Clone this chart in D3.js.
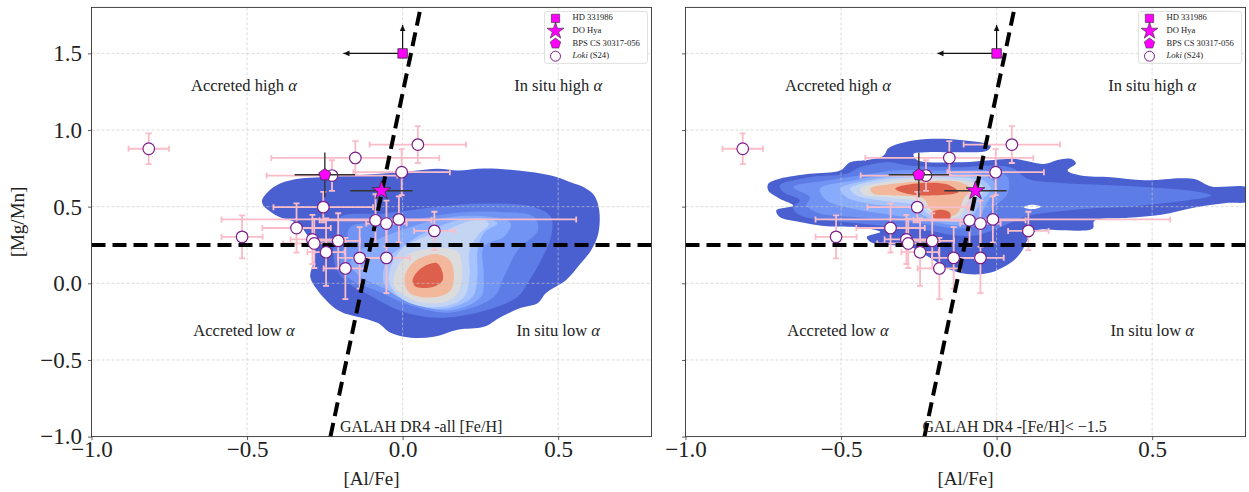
<!DOCTYPE html>
<html><head><meta charset="utf-8">
<script src="https://cdn.jsdelivr.net/npm/d3@7"></script>
<style>
body{margin:0;background:#fff}
svg{display:block}
text{font-family:"Liberation Serif","DejaVu Serif",serif;fill:#222}
</style>
</head><body>
<svg id="chart" width="1249" height="492"></svg>
<script>
// ---------------- data ----------------
const xTicks = [-1.0, -0.5, 0.0, 0.5];
const yTicks = [-1.0, -0.5, 0.0, 0.5, 1.0, 1.5];
const xDomain = [-1.0, 0.8];
const yDomain = [-1.0, 1.8];

// Loki (S24) stars: [Al/Fe], [Mg/Mn] and errors
const lokiAlFe  = [0.049,-0.152,-0.227,-0.003,-0.255,-0.341,-0.516,-0.290,-0.284,-0.207,-0.246,-0.184,-0.138,-0.052,-0.087,-0.052,-0.012,0.102,-0.816];
const lokiMgMn  = [0.905, 0.818, 0.703, 0.725, 0.497, 0.361, 0.303, 0.286, 0.260, 0.277, 0.203, 0.097, 0.166, 0.166, 0.411, 0.390, 0.417,0.342, 0.878];
const lokiAlErr = [0.155, 0.27, 0.21, 0.155, 0.16, 0.11, 0.066, 0.07, 0.10, 0.07, 0.06, 0.07, 0.07, 0.075, 0.18, 0.065, 0.57, 0.065, 0.065];
const lokiMgErr = [0.12, 0.11, 0.10, 0.15, 0.10, 0.16, 0.14, 0.16, 0.16, 0.18, 0.22, 0.20, 0.20, 0.23, 0.17, 0.15, 0.15, 0.125, 0.10];

// named stars
const hdPoint = [0.0, 1.5];          // HD 331986 (limits)
const hdLimitTo = [-0.19, 1.685];     // arrow ends: left in [Al/Fe], up in [Mg/Mn]
const doHya = [-0.068, 0.604, 0.10, 0.0];
const bpsCS = [-0.250, 0.708, 0.097, 0.146];

// dividing lines
const mgMnCut = 0.25;
const alFeCut = [[-0.232, -1.0], [0.058, 1.8]];

// density contour colours (outer -> inner)
const levelColors = ["#4a60d0","#5d7ce6","#7193f3","#88abfc","#a6c3fd","#c4d5f3","#dddcdc","#f3b79b","#dd604c"];

// GALAH DR4 all [Fe/H] contour outlines per level ([Al/Fe],[Mg/Mn])
const allL0 = [[-0.452,0.541],[-0.435,0.593],[-0.394,0.651],[-0.329,0.684],[-0.265,0.692],[-0.168,0.703],[-0.061,0.716],[0.026,0.731],[0.113,0.747],[0.177,0.736],[0.261,0.749],[0.371,0.736],[0.477,0.703],[0.542,0.658],[0.584,0.625],[0.616,0.573],[0.632,0.476],[0.629,0.325],[0.606,0.216],[0.568,0.119],[0.526,0.022],[0.461,-0.063],[0.435,-0.128],[0.381,-0.160],[0.316,-0.219],[0.261,-0.284],[0.177,-0.303],[0.1,-0.349],[0.026,-0.355],[-0.039,-0.323],[-0.081,-0.258],[-0.168,-0.206],[-0.19,-0.193],[-0.223,-0.154],[-0.274,-0.043],[-0.297,0.041],[-0.287,0.132],[-0.281,0.216],[-0.297,0.281],[-0.313,0.333],[-0.329,0.379],[-0.361,0.411],[-0.394,0.431],[-0.426,0.469],[-0.448,0.508]];
const allL1 = [[-0.2,0.432],[-0.061,0.456],[0.1,0.497],[0.261,0.521],[0.423,0.497],[0.477,0.432],[0.477,0.303],[0.445,0.151],[0.402,0.002],[0.37,-0.087],[0.261,-0.18],[0.112,-0.225],[-0.006,-0.18],[-0.114,-0.07],[-0.168,-0.01],[-0.211,0.086],[-0.223,0.216],[-0.211,0.346]];
const allL2 = [[-0.168,0.368],[-0.006,0.4],[0.155,0.456],[0.316,0.465],[0.423,0.432],[0.435,0.346],[0.37,0.216],[0.326,0.043],[0.294,-0.087],[0.155,-0.19],[0.026,-0.145],[-0.082,-0.05],[-0.179,0.043],[-0.2,0.151],[-0.179,0.281]];
const allL3 = [[0.026,0.368],[0.155,0.432],[0.284,0.432],[0.348,0.39],[0.326,0.303],[0.261,0.238],[0.261,0.043],[0.252,-0.087],[0.155,-0.175],[0.026,-0.125],[-0.061,-0.03],[-0.135,0.043],[-0.168,0.132],[-0.135,0.216],[-0.061,0.303]];
const allL4 = [[0.068,0.327],[0.176,0.411],[0.261,0.424],[0.305,0.392],[0.261,0.327],[0.241,0.216],[0.24,0.043],[0.225,-0.087],[0.132,-0.165],[0.015,-0.12],[-0.06,0],[-0.05,0.151],[0.015,0.262]];
const allL5 = [[-0.045,0.021],[-0.032,0.138],[0.0,0.229],[0.058,0.294],[0.139,0.346],[0.203,0.398],[0.258,0.418],[0.277,0.385],[0.245,0.32],[0.215,0.216],[0.215,0.054],[0.2,-0.082],[0.155,-0.14],[0.09,-0.155],[0.026,-0.13],[-0.019,-0.07]];
const allL6 = [[-0.029,0.021],[-0.013,0.119],[0.019,0.19],[0.074,0.223],[0.139,0.229],[0.18,0.2],[0.19,0.12],[0.19,0.03],[0.175,-0.07],[0.145,-0.115],[0.106,-0.13],[0.042,-0.115],[0.0,-0.07],[-0.023,-0.035]];
const allL7 = [[0.006,0.034],[0.026,0.119],[0.065,0.171],[0.113,0.19],[0.152,0.151],[0.165,0.054],[0.155,-0.043],[0.123,-0.082],[0.058,-0.089],[0.019,-0.056]];
const allL8 = [[0.032,0.021],[0.052,0.086],[0.084,0.125],[0.110,0.132],[0.126,0.086],[0.129,0.021],[0.106,-0.018],[0.065,-0.031],[0.039,-0.018]];

// GALAH DR4 [Fe/H] < -1.5 contour outlines per level
const mpL0 = [[-0.734,0.649],[-0.697,0.682],[-0.6,0.714],[-0.503,0.736],[-0.471,0.79],[-0.417,0.805],[-0.364,0.833],[-0.347,0.883],[-0.299,0.919],[-0.224,0.941],[-0.116,0.935],[-0.019,0.898],[-0.030,0.866],[-0.116,0.855],[-0.224,0.855],[-0.267,0.844],[-0.256,0.805],[-0.116,0.79],[-0.009,0.805],[0.056,0.812],[0.153,0.779],[0.196,0.805],[0.239,0.812],[0.255,0.783],[0.228,0.736],[0.271,0.703],[0.368,0.692],[0.475,0.672],[0.594,0.686],[0.637,0.68],[0.690,0.632],[0.806,0.622],[0.806,0.536],[0.744,0.525],[0.637,0.495],[0.529,0.448],[0.422,0.428],[0.314,0.407],[0.309,0.357],[0.206,0.346],[0.131,0.346],[0.099,0.281],[0.083,0.216],[0.056,0.151],[0.013,0.097],[-0.030,0.065],[-0.095,0.060],[-0.159,0.097],[-0.202,0.151],[-0.277,0.238],[-0.331,0.249],[-0.406,0.270],[-0.417,0.303],[-0.374,0.335],[-0.439,0.364],[-0.546,0.372],[-0.632,0.400],[-0.697,0.432],[-0.708,0.476],[-0.654,0.508],[-0.697,0.552],[-0.734,0.606]];
const mpHole = [[0.087,0.497],[0.115,0.512],[0.142,0.5],[0.115,0.484]];
const mpL1 = [[-0.697,0.638],[-0.6,0.692],[-0.482,0.714],[-0.439,0.757],[-0.353,0.79],[-0.277,0.768],[-0.116,0.757],[-0.009,0.768],[0.056,0.747],[0.099,0.682],[0.206,0.655],[0.314,0.645],[0.422,0.635],[0.529,0.622],[0.637,0.6],[0.690,0.573],[0.637,0.548],[0.529,0.52],[0.422,0.5],[0.314,0.49],[0.206,0.47],[0.099,0.44],[0.013,0.368],[-0.062,0.314],[-0.138,0.314],[-0.224,0.346],[-0.331,0.368],[-0.439,0.39],[-0.546,0.411],[-0.632,0.444],[-0.654,0.494],[-0.632,0.541],[-0.686,0.595]];
const mpL2 = [[-0.654,0.627],[-0.546,0.671],[-0.439,0.703],[-0.331,0.736],[-0.170,0.736],[-0.030,0.736],[0.035,0.692],[0.035,0.584],[-0.009,0.497],[-0.052,0.39],[-0.116,0.357],[-0.202,0.379],[-0.331,0.411],[-0.460,0.432],[-0.568,0.455],[-0.611,0.508],[-0.6,0.562]];
const mpL3 = [[-0.568,0.617],[-0.460,0.671],[-0.331,0.714],[-0.170,0.718],[-0.041,0.703],[0.002,0.627],[-0.030,0.530],[-0.062,0.411],[-0.116,0.379],[-0.202,0.4],[-0.331,0.444],[-0.460,0.487],[-0.546,0.541]];
const mpL4 = [[-0.503,0.617],[-0.417,0.671],[-0.299,0.703],[-0.159,0.703],[-0.052,0.682],[-0.019,0.617],[-0.052,0.530],[-0.084,0.422],[-0.127,0.4],[-0.213,0.422],[-0.277,0.487],[-0.406,0.519],[-0.482,0.562]];
const mpL5 = [[-0.471,0.617],[-0.385,0.671],[-0.277,0.692],[-0.148,0.692],[-0.062,0.671],[-0.041,0.606],[-0.073,0.530],[-0.1,0.432],[-0.138,0.411],[-0.213,0.444],[-0.256,0.508],[-0.374,0.541],[-0.449,0.573]];
const mpL6 = [[-0.439,0.617],[-0.364,0.660],[-0.256,0.682],[-0.138,0.675],[-0.073,0.649],[-0.062,0.595],[-0.095,0.530],[-0.116,0.444],[-0.159,0.422],[-0.213,0.465],[-0.245,0.530],[-0.353,0.562],[-0.428,0.580]];
const mpL7 = [[-0.406,0.617],[-0.331,0.649],[-0.224,0.666],[-0.116,0.660],[-0.084,0.617],[-0.106,0.552],[-0.127,0.455],[-0.170,0.432],[-0.213,0.487],[-0.235,0.552],[-0.331,0.573],[-0.396,0.584]];
const mpL8a = [[-0.326,0.617],[-0.268,0.649],[-0.158,0.645],[-0.123,0.595],[-0.213,0.573],[-0.287,0.584]];
const mpL8b = [[-0.21,0.46],[-0.18,0.48],[-0.15,0.46],[-0.15,0.42],[-0.18,0.41],[-0.205,0.43]];

const allLevels = [[allL0],[allL1],[allL2],[allL3],[allL4],[allL5],[allL6],[allL7],[allL8]];
const mpLevels  = [[mpL0],[mpL1],[mpL2],[mpL3],[mpL4],[mpL5],[mpL6],[mpL7],[mpL8a,mpL8b]];

const regionLabels = ["Accreted high \u03b1","In situ high \u03b1","Accreted low \u03b1","In situ low \u03b1"];
const legendLabels = ["HD 331986","DO Hya","BPS CS 30317-056","Loki (S24)"];

// ---------------- layout ----------------
const W = 560, H = 429.2, TOP = 7.4;
const panels = [
  {ox: 91.5, levels: allLevels, hole: null, label: "GALAH DR4 -all [Fe/H]", labelX: -0.201, yLabels: true},
  {ox: 685.5, levels: mpLevels, hole: mpHole, label: "GALAH DR4 -[Fe/H]< \u22121.5", labelX: -0.238, yLabels: false}
];
const regionPos = [[-0.51,1.28],[0.5,1.28],[-0.51,-0.32],[0.5,-0.32]];

const svg = d3.select("#chart");
const x = d3.scaleLinear().domain(xDomain).range([0, W]);
const y = d3.scaleLinear().domain(yDomain).range([H, 0]);
const fmt = v => (v < 0 ? "\u2212" : "") + Math.abs(v).toFixed(1);
const curve = d3.line().x(d => x(d[0])).y(d => y(d[1])).curve(d3.curveCatmullRomClosed.alpha(0.5));

function pentagon(r) {
  const pts = d3.range(5).map(k => {
    const a = -Math.PI / 2 + k * 2 * Math.PI / 5;
    return [r * Math.cos(a), r * Math.sin(a)];
  });
  return "M" + pts.map(p => p.join(",")).join("L") + "Z";
}
const MAG = "#ff00ff";

panels.forEach((p, pi) => {
  const g = svg.append("g").attr("transform", `translate(${p.ox},${TOP})`);
  const clipId = "clip" + pi;
  g.append("clipPath").attr("id", clipId).append("rect").attr("width", W).attr("height", H);
  const body = g.append("g").attr("clip-path", `url(#${clipId})`);

  // contours
  p.levels.forEach((polys, li) => {
    polys.forEach(poly => {
      body.append("path").attr("d", curve(poly)).attr("fill", levelColors[li]).attr("stroke", "none");
    });
    if (li === 1 && p.hole) {
      body.append("path").attr("d", curve(p.hole)).attr("fill", "#fff");
    }
  });

  // grid
  body.selectAll(".gx").data(xTicks).join("line")
    .attr("x1", d => x(d)).attr("x2", d => x(d)).attr("y1", 0).attr("y2", H)
    .attr("stroke", "#c8c8c8").attr("stroke-opacity", 0.8).attr("stroke-width", 0.8).attr("stroke-dasharray", "3,2");
  body.selectAll(".gy").data(yTicks).join("line")
    .attr("y1", d => y(d)).attr("y2", d => y(d)).attr("x1", 0).attr("x2", W)
    .attr("stroke", "#c8c8c8").attr("stroke-opacity", 0.8).attr("stroke-width", 0.8).attr("stroke-dasharray", "3,2");

  // region labels
  regionLabels.forEach((t, i) => {
    const parts = t.split("\u03b1");
    const tx = body.append("text").attr("x", x(regionPos[i][0])).attr("y", y(regionPos[i][1]))
      .attr("text-anchor", "middle").attr("dominant-baseline", "middle").attr("font-size", 16.5);
    tx.append("tspan").text(parts[0]);
    tx.append("tspan").attr("font-style", "italic").text("\u03b1");
  });

  // Loki error bars
  const eb = body.append("g").attr("stroke", "#f9bcc8").attr("stroke-width", 1.8);
  lokiAlFe.forEach((ax, i) => {
    const my = lokiMgMn[i], ex = lokiAlErr[i], ey = lokiMgErr[i];
    eb.append("line").attr("x1", x(ax - ex)).attr("x2", x(ax + ex)).attr("y1", y(my)).attr("y2", y(my));
    eb.append("line").attr("x1", x(ax)).attr("x2", x(ax)).attr("y1", y(my - ey)).attr("y2", y(my + ey));
    [ax - ex, ax + ex].forEach(cx => eb.append("line").attr("x1", x(cx)).attr("x2", x(cx)).attr("y1", y(my) - 3).attr("y2", y(my) + 3));
    [my - ey, my + ey].forEach(cy => eb.append("line").attr("y1", y(cy)).attr("y2", y(cy)).attr("x1", x(ax) - 3).attr("x2", x(ax) + 3));
  });

  // dashed dividing lines
  body.append("line").attr("x1", 0).attr("x2", W).attr("y1", y(mgMnCut)).attr("y2", y(mgMnCut))
    .attr("stroke", "#000").attr("stroke-width", 4).attr("stroke-dasharray", "14,7");
  body.append("line").attr("x1", x(alFeCut[0][0])).attr("y1", y(alFeCut[0][1]))
    .attr("x2", x(alFeCut[1][0])).attr("y2", y(alFeCut[1][1]))
    .attr("stroke", "#000").attr("stroke-width", 4).attr("stroke-dasharray", "14,7");

  // Loki circles
  body.selectAll(".loki").data(lokiAlFe).join("circle")
    .attr("cx", d => x(d)).attr("cy", (d, i) => y(lokiMgMn[i])).attr("r", 5.8)
    .attr("fill", "#fff").attr("stroke", "#7a1f8a").attr("stroke-width", 1.2);

  // named stars errors
  const blk = body.append("g").attr("stroke", "#333").attr("stroke-width", 1.4);
  [doHya, bpsCS].forEach(s => {
    blk.append("line").attr("x1", x(s[0] - s[2])).attr("x2", x(s[0] + s[2])).attr("y1", y(s[1])).attr("y2", y(s[1]));
    if (s[3] > 0) blk.append("line").attr("x1", x(s[0])).attr("x2", x(s[0])).attr("y1", y(s[1] - s[3])).attr("y2", y(s[1] + s[3]));
  });
  // HD 331986 limit arrows
  const ar = body.append("g").attr("stroke", "#111").attr("stroke-width", 1.2);
  const hx = x(hdPoint[0]), hy = y(hdPoint[1]);
  ar.append("line").attr("x1", hx).attr("y1", hy).attr("x2", x(hdLimitTo[0])).attr("y2", hy);
  ar.append("line").attr("x1", hx).attr("y1", hy).attr("x2", hx).attr("y2", y(hdLimitTo[1]));
  body.append("path").attr("d", `M${x(hdLimitTo[0])},${hy}l6,-2.8l0,5.6z`).attr("fill", "#111");
  body.append("path").attr("d", `M${hx},${y(hdLimitTo[1])}l-2.8,6l5.6,0z`).attr("fill", "#111");

  body.append("path").attr("d", d3.symbol(d3.symbolSquare, 90)()).attr("transform", `translate(${hx},${hy})`)
    .attr("fill", MAG).attr("stroke", "#333").attr("stroke-width", 0.8);
  body.append("path").attr("d", d3.symbol(d3.symbolStar, 110)()).attr("transform", `translate(${x(doHya[0])},${y(doHya[1])})`)
    .attr("fill", MAG).attr("stroke", "#333").attr("stroke-width", 0.8);
  body.append("path").attr("d", pentagon(6.3)).attr("transform", `translate(${x(bpsCS[0])},${y(bpsCS[1])})`)
    .attr("fill", MAG).attr("stroke", "#333").attr("stroke-width", 0.8);

  // bottom annotation
  body.append("text").attr("x", x(p.labelX)).attr("y", y(-0.97)).attr("font-size", 16).text(p.label);

  // legend
  const lg = g.append("g").attr("transform", `translate(${W - 107},4)`);
  lg.append("rect").attr("width", 103).attr("height", 52).attr("rx", 2.5)
    .attr("fill", "#fff").attr("fill-opacity", 0.85).attr("stroke", "#d8d8d8").attr("stroke-width", 0.8);
  const ly = i => 7 + i * 12.6;
  lg.append("path").attr("d", d3.symbol(d3.symbolSquare, 70)()).attr("transform", `translate(11,${ly(0)})`).attr("fill", MAG).attr("stroke", "#333").attr("stroke-width", 0.6);
  lg.append("path").attr("d", d3.symbol(d3.symbolStar, 90)()).attr("transform", `translate(11,${ly(1)})`).attr("fill", MAG).attr("stroke", "#333").attr("stroke-width", 0.6);
  lg.append("path").attr("d", pentagon(5.5)).attr("transform", `translate(11,${ly(2)})`).attr("fill", MAG).attr("stroke", "#333").attr("stroke-width", 0.6);
  lg.append("circle").attr("cx", 11).attr("cy", ly(3)).attr("r", 5).attr("fill", "#fff").attr("stroke", "#7a1f8a").attr("stroke-width", 1);
  legendLabels.forEach((t, i) => {
    const tx = lg.append("text").attr("x", 28).attr("y", ly(i)).attr("dominant-baseline", "middle").attr("font-size", 8.6);
    if (t.startsWith("Loki")) {
      tx.append("tspan").attr("font-style", "italic").text("Loki");
      tx.append("tspan").text(" (S24)");
    } else tx.text(t);
  });

  // frame
  g.append("rect").attr("width", W).attr("height", H).attr("fill", "none").attr("stroke", "#333").attr("stroke-width", 0.9);

  // axes
  const xa = g.append("g").attr("transform", `translate(0,${H})`)
    .call(d3.axisBottom(x).tickValues(xTicks).tickFormat(fmt).tickSize(3.5).tickPadding(0.5));
  const ya = g.append("g")
    .call(d3.axisLeft(y).tickValues(yTicks).tickFormat(p.yLabels ? fmt : () => "").tickSize(3.5).tickPadding(6));
  [xa, ya].forEach(a => {
    a.select(".domain").remove();
    a.selectAll(".tick line").attr("stroke", "#333").attr("stroke-width", 0.8);
    a.selectAll("text").attr("font-family", "Liberation Serif, DejaVu Serif, serif").attr("font-size", 23).attr("fill", "#222");
  });
  g.append("text").attr("x", W / 2).attr("y", H + 48).attr("text-anchor", "middle").attr("font-size", 19).text("[Al/Fe]");
  if (p.yLabels) {
    g.append("text").attr("transform", `translate(-68,${H / 2}) rotate(-90)`).attr("text-anchor", "middle").attr("font-size", 19).text("[Mg/Mn]");
  }
});
</script>
</body></html>
